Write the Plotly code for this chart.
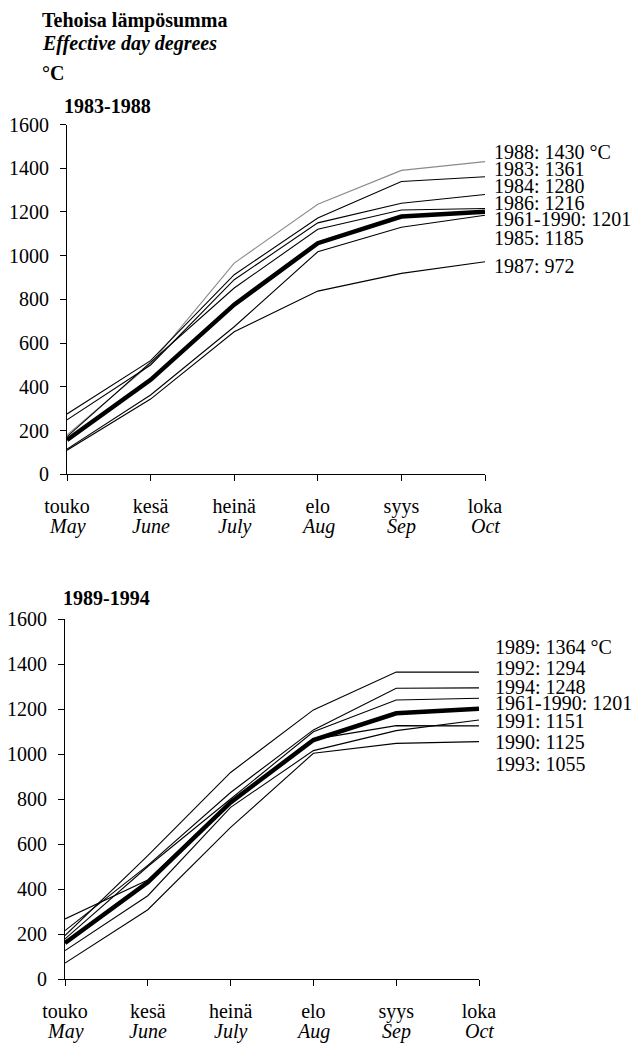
import plotly.graph_objects as go

W, H = 639, 1043
FONT = "Liberation Serif, Times New Roman, Times, serif"

months_fi = ["touko", "kesä", "heinä", "elo", "syys", "loka"]
months_en = ["May", "June", "July", "Aug", "Sep", "Oct"]
y_ticks = [0, 200, 400, 600, 800, 1000, 1200, 1400, 1600]

# Panel 1: 1983-1988
p1_1988 = [180, 505, 966, 1235, 1390, 1430]
p1_1983 = [276, 520, 913, 1172, 1339, 1361]
p1_1984 = [249, 500, 890, 1150, 1240, 1280]
p1_1986 = [172, 510, 852, 1121, 1209, 1216]
p1_avg = [157, 432, 776, 1057, 1179, 1201]
p1_1985 = [115, 363, 675, 1018, 1130, 1185]
p1_1987 = [110, 344, 652, 838, 919, 972]
p1_labels = ["1988: 1430 °C", "1983: 1361", "1984: 1280", "1986: 1216",
             "1961-1990: 1201", "1985: 1185", "1987: 972"]

# Panel 2: 1989-1994
p2_1989 = [193, 548, 918, 1196, 1364, 1364]
p2_1992 = [215, 505, 829, 1107, 1292, 1294]
p2_1994 = [178, 500, 800, 1099, 1240, 1248]
p2_avg = [160, 430, 785, 1062, 1181, 1201]
p2_1991 = [126, 370, 763, 1015, 1104, 1151]
p2_1990 = [267, 440, 790, 1065, 1126, 1125]
p2_1993 = [71, 308, 674, 1003, 1047, 1055]
p2_labels = ["1989: 1364 °C", "1992: 1294", "1994: 1248", "1961-1990: 1201",
             "1991: 1151", "1990: 1125", "1993: 1055"]

# layout-only label positions (y in data units of each panel)
p1_label_y = [1475, 1396, 1318, 1242, 1167, 1080, 952]
p2_label_y = [1474, 1381, 1299, 1225, 1147, 1055, 956]

xs = list(range(len(months_fi)))

fig = go.Figure()

p1_series = [("1988", p1_1988, "#8a8a8a", 1.1), ("1983", p1_1983, "black", 1.1),
             ("1984", p1_1984, "black", 1.1), ("1986", p1_1986, "black", 1.1),
             ("1985", p1_1985, "black", 1.1), ("1987", p1_1987, "black", 1.1),
             ("1961-1990", p1_avg, "black", 4.5)]
p2_series = [("1989", p2_1989, "black", 1.1), ("1992", p2_1992, "black", 1.1),
             ("1994", p2_1994, "black", 1.1), ("1991", p2_1991, "black", 1.1),
             ("1990", p2_1990, "black", 1.1), ("1993", p2_1993, "black", 1.1),
             ("1961-1990", p2_avg, "black", 4.5)]

for name, vals, col, w in p1_series:
    fig.add_trace(go.Scatter(x=xs, y=vals, mode="lines", name=name,
                             line=dict(color=col, width=w), xaxis="x", yaxis="y",
                             hoverinfo="skip"))
for name, vals, col, w in p2_series:
    fig.add_trace(go.Scatter(x=xs, y=vals, mode="lines", name=name,
                             line=dict(color=col, width=w), xaxis="x2", yaxis="y2",
                             hoverinfo="skip"))


def px_x(p):
    return p / W


def px_y(p):
    return 1 - p / H


tfont = dict(family=FONT, size=20, color="black")

axis_common_x = dict(range=[0, 5], tickvals=xs, ticktext=months_fi, ticks="outside",
                     ticklen=6, tickcolor="black", showline=True, linecolor="black",
                     linewidth=1, showgrid=False, zeroline=False, fixedrange=True,
                     tickfont=tfont, ticklabelstandoff=8, automargin=False)
axis_common_y = dict(range=[0, 1600], tickvals=y_ticks, ticks="outside", ticklen=6,
                     tickcolor="black", showline=True, linecolor="black", linewidth=1,
                     showgrid=False, zeroline=False, fixedrange=True,
                     tickfont=tfont, ticklabelstandoff=7, automargin=False)

fig.update_layout(
    template="none",
    width=W, height=H, autosize=False,
    margin=dict(l=0, r=0, t=0, b=0, pad=0, autoexpand=False),
    paper_bgcolor="white", plot_bgcolor="white", showlegend=False,
    font=tfont,
    xaxis=dict(domain=[px_x(67), px_x(485)], anchor="y", **axis_common_x),
    yaxis=dict(domain=[px_y(474.3), px_y(124.5)], anchor="x", **axis_common_y),
    xaxis2=dict(domain=[px_x(65), px_x(479)], anchor="y2", **axis_common_x),
    yaxis2=dict(domain=[px_y(979), px_y(619)], anchor="x2", **axis_common_y),
)

ann = []
# Titles
for text, yc in [("<b>Tehoisa lämpösumma</b>", 21), ("<b><i>Effective day degrees</i></b>", 44),
                 ("<b>°C</b>", 73)]:
    ann.append(dict(text=text, xref="paper", yref="paper", x=px_x(40), y=px_y(yc),
                    xanchor="left", yanchor="middle", showarrow=False, font=tfont))
ann.append(dict(text="<b>1983-1988</b>", xref="paper", yref="paper", x=px_x(62), y=px_y(106),
                xanchor="left", yanchor="middle", showarrow=False, font=tfont))
ann.append(dict(text="<b>1989-1994</b>", xref="paper", yref="paper", x=px_x(61), y=px_y(598),
                xanchor="left", yanchor="middle", showarrow=False, font=tfont))

# English month labels
for xa, ya, ys in [("x", "y", -52), ("x2", "y2", -52)]:
    for i, m in enumerate(months_en):
        ann.append(dict(text="<i>" + m + "</i>", xref=xa, yref=ya, x=i, y=0,
                        xanchor="center", yanchor="middle", yshift=ys, showarrow=False,
                        font=tfont))

# Series end labels
for lab, yv in zip(p1_labels, p1_label_y):
    ann.append(dict(text=lab, xref="paper", yref="y", x=px_x(492), y=yv,
                    xanchor="left", yanchor="middle", showarrow=False, font=tfont))
for lab, yv in zip(p2_labels, p2_label_y):
    ann.append(dict(text=lab, xref="paper", yref="y2", x=px_x(493), y=yv,
                    xanchor="left", yanchor="middle", showarrow=False, font=tfont))

fig.update_layout(annotations=ann)
fig.write_html("out.html")
